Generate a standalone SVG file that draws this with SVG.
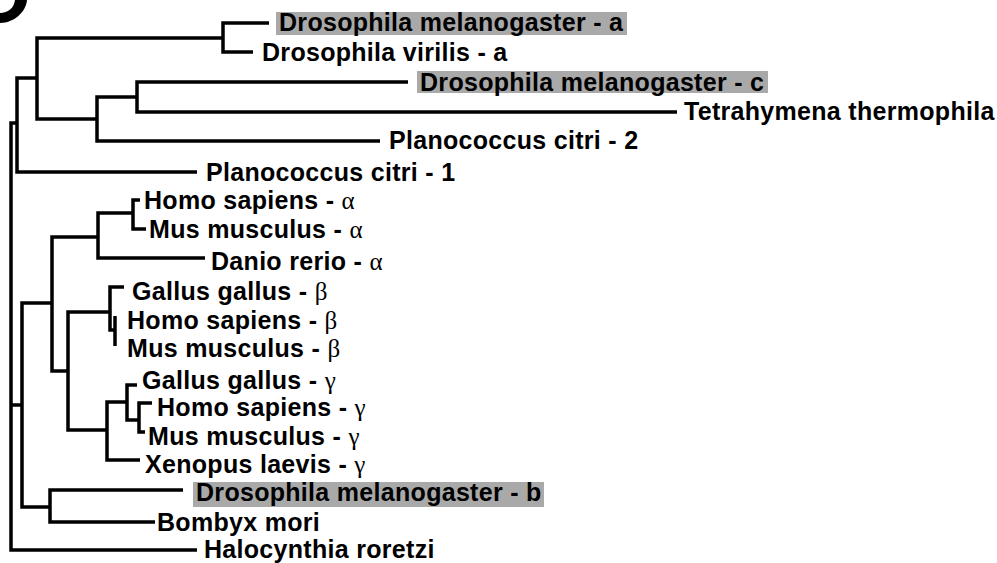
<svg xmlns="http://www.w3.org/2000/svg" width="997" height="563" viewBox="0 0 997 563">
<style>
.t{font-family:"Liberation Sans",Arial,sans-serif;font-weight:bold;font-size:25px;letter-spacing:0.3px;fill:#000}
.gr{font-family:"Liberation Serif","Times New Roman",serif;font-weight:normal;font-size:25px}
.hl{fill:#a9a9a9}
.e{fill:none;stroke:#000;stroke-width:3.5;stroke-linejoin:miter;stroke-linecap:butt}
</style>
<rect width="997" height="563" fill="#fff"/>
<path d="M27 0 C26 12 14 23 0 23 L0 13 C8 13 14 8 15 0 Z" fill="#000"/>
<g id="connectors" class="e">
<path d="M17 123 H11 V550 H197"/>
<path d="M11 405 H22"/>
<path d="M37 78 H17 V172 H197"/>
<path d="M223 38 H37 V119 H97"/>
<path d="M269 23 H223 V52 H253"/>
<path d="M137 97 H97 V141 H380"/>
<path d="M408 82 H137 V112 H677"/>
<path d="M52 303 H22 V507 H50"/>
<path d="M98 237 H52 V371 H68"/>
<path d="M133 213 H98 V258 H205"/>
<path d="M140 200 H133 V229 H146"/>
<path d="M110 312 H68 V430 H107"/>
<path d="M124 287 H110 V330 H115"/>
<path d="M115 316 V346"/>
<path d="M127 402 H107 V460 H140"/>
<path d="M137 385 H127 V420 H139"/>
<path d="M152 403 H139 V432 H145"/>
<path d="M183 490 H50 V522 H155"/>
</g>
<g id="dmel-a"><rect class="hl" x="276" y="12" width="351" height="23"/><text class="t" x="279" y="31">Drosophila melanogaster - a</text></g>
<g id="dvir-a"><text class="t" x="262" y="61">Drosophila virilis - a</text></g>
<g id="dmel-c"><rect class="hl" x="417" y="71" width="351" height="22"/><text class="t" x="420" y="91">Drosophila melanogaster - c</text></g>
<g id="tthe"><text class="t" x="684" y="120">Tetrahymena thermophila</text></g>
<g id="pcit-2"><text class="t" x="389" y="149">Planococcus citri - 2</text></g>
<g id="pcit-1"><text class="t" x="206" y="181">Planococcus citri - 1</text></g>
<g id="hsap-a"><text class="t" x="144" y="209">Homo sapiens - <tspan class="gr">α</tspan></text></g>
<g id="mmus-a"><text class="t" x="149" y="238">Mus musculus - <tspan class="gr">α</tspan></text></g>
<g id="drer-a"><text class="t" x="211" y="270">Danio rerio - <tspan class="gr">α</tspan></text></g>
<g id="ggal-b"><text class="t" x="132" y="300">Gallus gallus - <tspan class="gr">β</tspan></text></g>
<g id="hsap-b"><text class="t" x="127" y="329">Homo sapiens - <tspan class="gr">β</tspan></text></g>
<g id="mmus-b"><text class="t" x="127" y="357">Mus musculus - <tspan class="gr">β</tspan></text></g>
<g id="ggal-g"><text class="t" x="142" y="389">Gallus gallus - <tspan class="gr">γ</tspan></text></g>
<g id="hsap-g"><text class="t" x="157" y="416">Homo sapiens - <tspan class="gr">γ</tspan></text></g>
<g id="mmus-g"><text class="t" x="148" y="445">Mus musculus - <tspan class="gr">γ</tspan></text></g>
<g id="xlae-g"><text class="t" x="145" y="473">Xenopus laevis - <tspan class="gr">γ</tspan></text></g>
<g id="dmel-b"><rect class="hl" x="193" y="482" width="351" height="25"/><text class="t" x="196" y="501">Drosophila melanogaster - b</text></g>
<g id="bmor"><text class="t" x="157" y="531">Bombyx mori</text></g>
<g id="hror"><text class="t" x="204" y="558">Halocynthia roretzi</text></g>
</svg>
